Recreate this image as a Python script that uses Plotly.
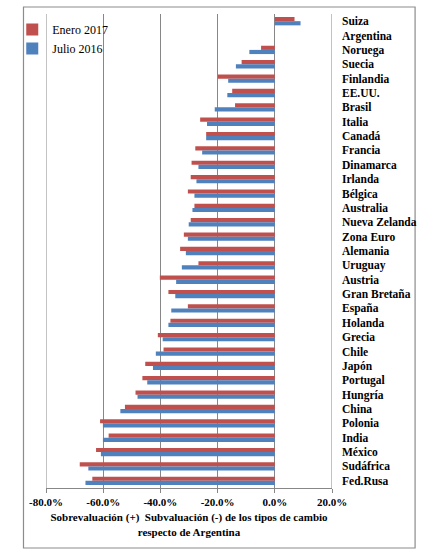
import plotly.graph_objects as go

categories = ["Suiza", "Argentina", "Noruega", "Suecia", "Finlandia", "EE.UU.", "Brasil",
              "Italia", "Canadá", "Francia", "Dinamarca", "Irlanda", "Bélgica", "Australia",
              "Nueva Zelanda", "Zona Euro", "Alemania", "Uruguay", "Austria", "Gran Bretaña",
              "España", "Holanda", "Grecia", "Chile", "Japón", "Portugal", "Hungría", "China",
              "Polonia", "India", "México", "Sudáfrica", "Fed.Rusa"]

enero_2017 = [6.9, 0.0, -4.8, -11.6, -19.9, -14.9, -13.9, -26.1, -24.0, -27.8, -29.1, -29.4,
              -30.4, -28.1, -29.4, -31.8, -33.1, -26.7, -40.2, -37.2, -30.4, -36.5, -40.9,
              -38.9, -45.3, -46.3, -48.7, -52.4, -61.1, -58.1, -62.5, -68.2, -63.8]

julio_2016 = [9.0, 0.0, -8.9, -13.6, -16.3, -16.6, -21.0, -23.7, -24.0, -25.4, -26.7, -27.4,
              -28.1, -28.8, -30.1, -30.4, -31.1, -32.5, -34.5, -34.8, -36.2, -37.2, -39.2,
              -41.6, -42.6, -44.6, -48.0, -54.0, -60.1, -60.1, -60.8, -65.2, -66.2]

x_tickvals = [-80, -60, -40, -20, 0, 20]
x_ticktext = ["-80.0%", "-60.0%", "-40.0%", "-20.0%", "0.0%", "20.0%"]

GRID = "#878787"
SERIF = "Liberation Serif"

fig = go.Figure()
fig.add_trace(go.Bar(y=categories, x=enero_2017, orientation="h", name="Enero 2017",
                     marker=dict(color="#C0504D", line=dict(width=0))))
fig.add_trace(go.Bar(y=categories, x=julio_2016, orientation="h", name="Julio 2016",
                     marker=dict(color="#4F81BD", line=dict(width=0))))

fig.update_layout(
    width=428, height=553,
    margin=dict(l=36, r=96, t=14, b=65),
    paper_bgcolor="white", plot_bgcolor="white",
    barmode="group", bargap=0.42, bargroupgap=0,
    font=dict(family=SERIF, color="black", size=12),
    legend=dict(x=-0.118, y=0.998, xanchor="left", yanchor="top",
                bgcolor="rgba(0,0,0,0)", font=dict(family=SERIF, size=12),
                itemwidth=30, tracegroupgap=0),
    xaxis=dict(range=[-80, 20], tickvals=x_tickvals, ticktext=x_ticktext,
               showgrid=True, gridcolor=GRID, gridwidth=1,
               zeroline=True, zerolinecolor=GRID, zerolinewidth=1,
               showline=True, linecolor=GRID, linewidth=1,
               ticks="outside", ticklen=4, tickcolor=GRID,
               tickfont=dict(family=SERIF, size=11, weight="bold"),
               title=dict(text="Sobrevaluación (+)  Subvaluación (-) de los tipos de cambio<br>respecto de Argentina",
                          font=dict(family=SERIF, size=11, weight="bold"), standoff=6)),
    yaxis=dict(autorange="reversed", side="right", showgrid=False, zeroline=False,
               showline=False, ticks="", ticklabelstandoff=9,
               tickfont=dict(family=SERIF, size=11.5, weight="bold")),
    shapes=[
        dict(type="line", xref="x", yref="paper", x0=-80, x1=-80, y0=0, y1=1,
             line=dict(color=GRID, width=1)),
        dict(type="line", xref="x", yref="paper", x0=20, x1=20, y0=0, y1=1,
             line=dict(color=GRID, width=1)),
        dict(type="rect", xref="paper", yref="paper", x0=-0.0787, x1=1.2905,
             y0=-0.1266, y1=1.0148, line=dict(color="#8C8C8C", width=1.2),
             fillcolor="rgba(0,0,0,0)", layer="below"),
    ],
)

fig.write_html("out.html")
